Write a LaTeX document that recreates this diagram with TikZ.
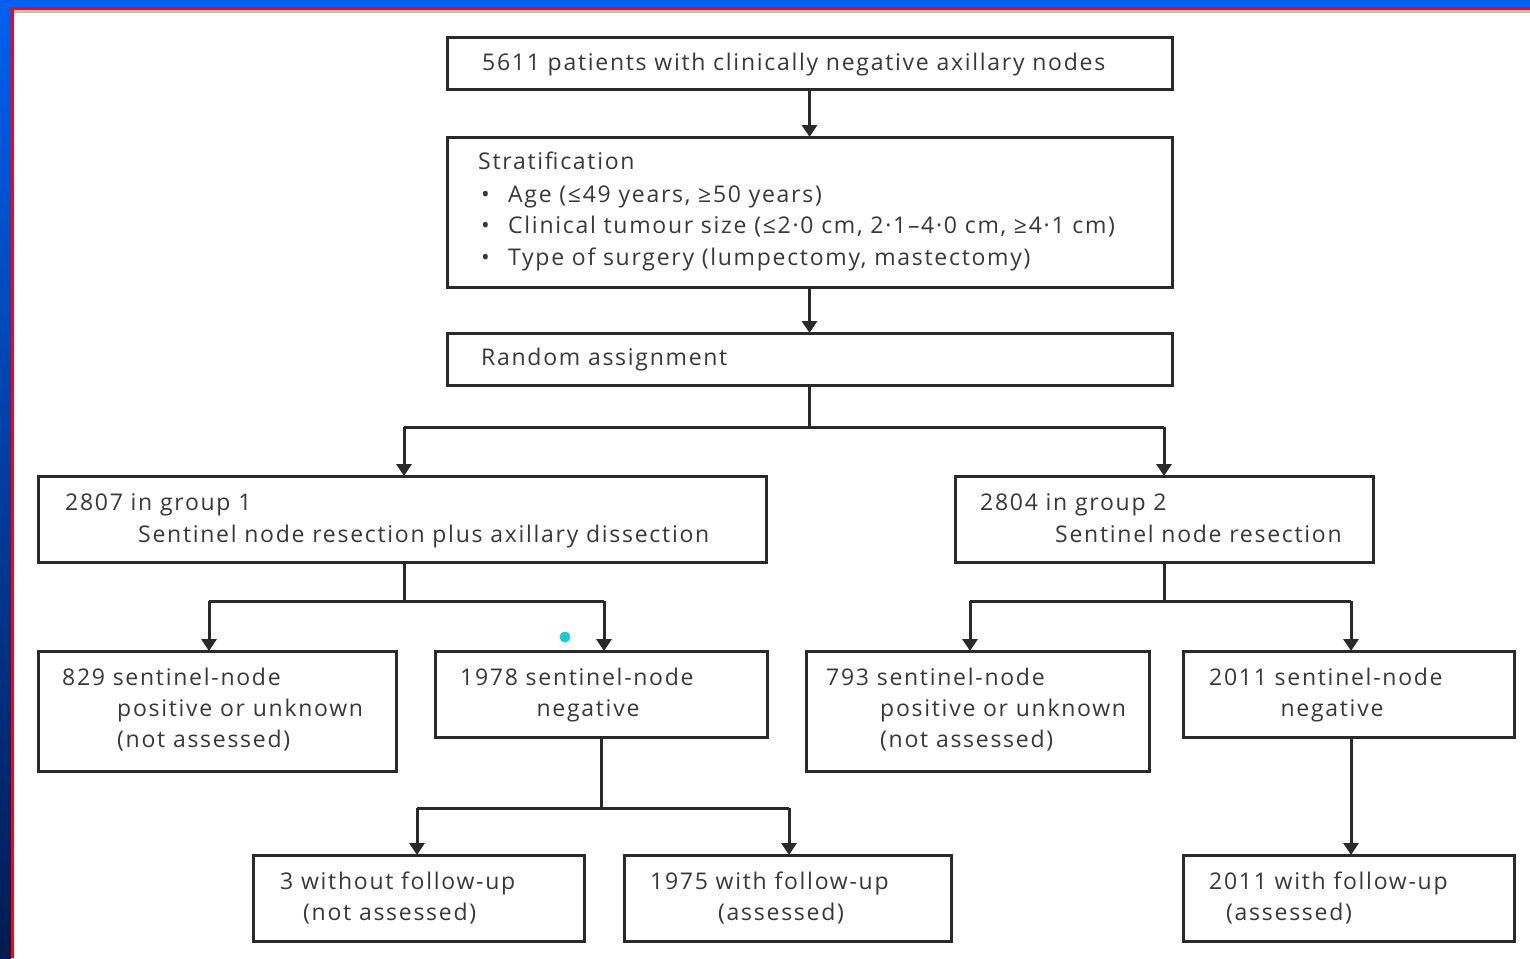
\documentclass[tikz,border=0pt]{standalone}
\usepackage{fontspec}
\setmainfont{Open Sans}[LetterSpace=7.5]
\usetikzlibrary{arrows.meta}
\definecolor{frameblue}{HTML}{0060F0}
\definecolor{navy}{HTML}{001C50}
\definecolor{framered}{HTML}{FF0010}
\definecolor{txt}{HTML}{383838}
\definecolor{edge}{HTML}{2A2A2A}
\definecolor{dotcyan}{HTML}{20C8D0}
\begin{document}
\begin{tikzpicture}[x=1pt,y=-1pt,
  box/.style={draw=edge,line width=3pt,rectangle,inner sep=0pt,outer sep=0pt},
  tx/.style={anchor=mid west,text=txt,font=\fontsize{23}{27}\selectfont,inner sep=0pt,yshift=-5pt},
  conn/.style={draw=edge,line width=3pt},
  arr/.style={conn,-{Triangle[width=15pt,length=12pt]}}]
% background and frame
\useasboundingbox (0,0) rectangle (1530,958);
\fill[white] (0,0) rectangle (1530,958);
\shade[top color=frameblue,bottom color=navy] (0,0) rectangle (11,958);
\fill[frameblue] (0,0) rectangle (1530,7);
\fill[framered] (11,7) rectangle (1530,10);
\fill[framered] (11,7) rectangle (14,958);
\fill[black!25] (14,10) rectangle (1530,13);
% boxes
\node[box,minimum width=725pt,minimum height=51pt] (b1) at (809.5,63.5) {};
\node[box,minimum width=725pt,minimum height=150pt] (b2) at (809.5,212) {};
\node[box,minimum width=725pt,minimum height=52pt] (b3) at (809.5,359) {};
\node[box,minimum width=728pt,minimum height=86pt] (g1) at (402,519) {};
\node[box,minimum width=418pt,minimum height=86pt] (g2) at (1164,519) {};
\node[box,minimum width=358pt,minimum height=120pt] (n829) at (217,711) {};
\node[box,minimum width=332pt,minimum height=86pt] (n1978) at (601,694) {};
\node[box,minimum width=343pt,minimum height=120pt] (n793) at (977.5,711) {};
\node[box,minimum width=331pt,minimum height=86pt] (n2011) at (1348.5,694) {};
\node[box,minimum width=331pt,minimum height=86pt] (w3) at (418.5,898) {};
\node[box,minimum width=327pt,minimum height=86pt] (w1975) at (787.5,898) {};
\node[box,minimum width=331pt,minimum height=86pt] (w2011) at (1348.5,898) {};
% texts
\node[tx] (t1) at (482,63) {5611 patients with clinically negative axillary nodes};
\node[tx] (t2a) at (478,162) {Stratification};
\node[tx] (t2b) at (481,195) {•};
\node[tx] (t2c) at (508,195) {Age (≤49 years, ≥50 years)};
\node[tx] (t2d) at (481,226) {•};
\node[tx] (t2e) at (508,226) {Clinical tumour size (≤2·0 cm, 2·1–4·0 cm, ≥4·1 cm)};
\node[tx] (t2f) at (481,258) {•};
\node[tx] (t2g) at (508,258) {Type of surgery (lumpectomy, mastectomy)};
\node[tx] (t3) at (481,358) {Random assignment};
\node[tx] (tg1a) at (65,503) {2807 in group 1};
\node[tx] (tg1b) at (138,535) {Sentinel node resection plus axillary dissection};
\node[tx] (tg2a) at (980,503) {2804 in group 2};
\node[tx] (tg2b) at (1055,535) {Sentinel node resection};
\node[tx] (ta1) at (62,678) {829 sentinel-node};
\node[tx] (ta2) at (117,709) {positive or unknown};
\node[tx] (ta3) at (117,740) {(not assessed)};
\node[tx] (tb1) at (460,678) {1978 sentinel-node};
\node[tx,anchor=mid] (tb2) at (588,709) {negative};
\node[tx] (tc1) at (826,678) {793 sentinel-node};
\node[tx] (tc2) at (880,709) {positive or unknown};
\node[tx] (tc3) at (880,740) {(not assessed)};
\node[tx] (td1) at (1209,678) {2011 sentinel-node};
\node[tx,anchor=mid] (td2) at (1332,709) {negative};
\node[tx] (te1) at (280,882) {3 without follow-up};
\node[tx] (te2) at (303,913) {(not assessed)};
\node[tx] (tf1) at (650,882) {1975 with follow-up};
\node[tx] (tf2) at (718,913) {(assessed)};
\node[tx] (th1) at (1209,882) {2011 with follow-up};
\node[tx] (th2) at (1226,913) {(assessed)};
% junction coordinates
\coordinate (jL) at (404,427);
\coordinate (jR) at (1164,427);
\coordinate (k1L) at (209,601);
\coordinate (k1R) at (604,601);
\coordinate (m1L) at (417,808);
\coordinate (m1R) at (789,808);
\coordinate (k2L) at (970,601);
\coordinate (k2R) at (1351,601);
% connectors
\draw[arr] (b1.south) -- (b2.north);
\draw[arr] (b2.south) -- (b3.north);
\draw[conn] (b3.south) -- (b3.south |- jL);
\draw[conn] (jL) -- (jR);
\draw[arr] (jL) -- (jL |- g1.north);
\draw[arr] (jR) -- (g2.north);
\draw[conn] (g1.south -| jL) -- (jL |- k1L);
\draw[conn] (k1L) -- (k1R);
\draw[arr] (k1L) -- (k1L |- n829.north);
\draw[arr] (k1R) -- (k1R |- n1978.north);
\draw[conn] (n1978.south) -- (n1978.south |- m1L);
\draw[conn] (m1L) -- (m1R);
\draw[arr] (m1L) -- (m1L |- w3.north);
\draw[arr] (m1R) -- (m1R |- w1975.north);
\draw[conn] (g2.south) -- (g2.south |- k2L);
\draw[conn] (k2L) -- (k2R);
\draw[arr] (k2L) -- (k2L |- n793.north);
\draw[arr] (k2R) -- (k2R |- n2011.north);
\draw[arr] (k2R |- n2011.south) -- (k2R |- w2011.north);
% marker dot
\fill[dotcyan] (565,637) circle (5.5);
\end{tikzpicture}
\end{document}
